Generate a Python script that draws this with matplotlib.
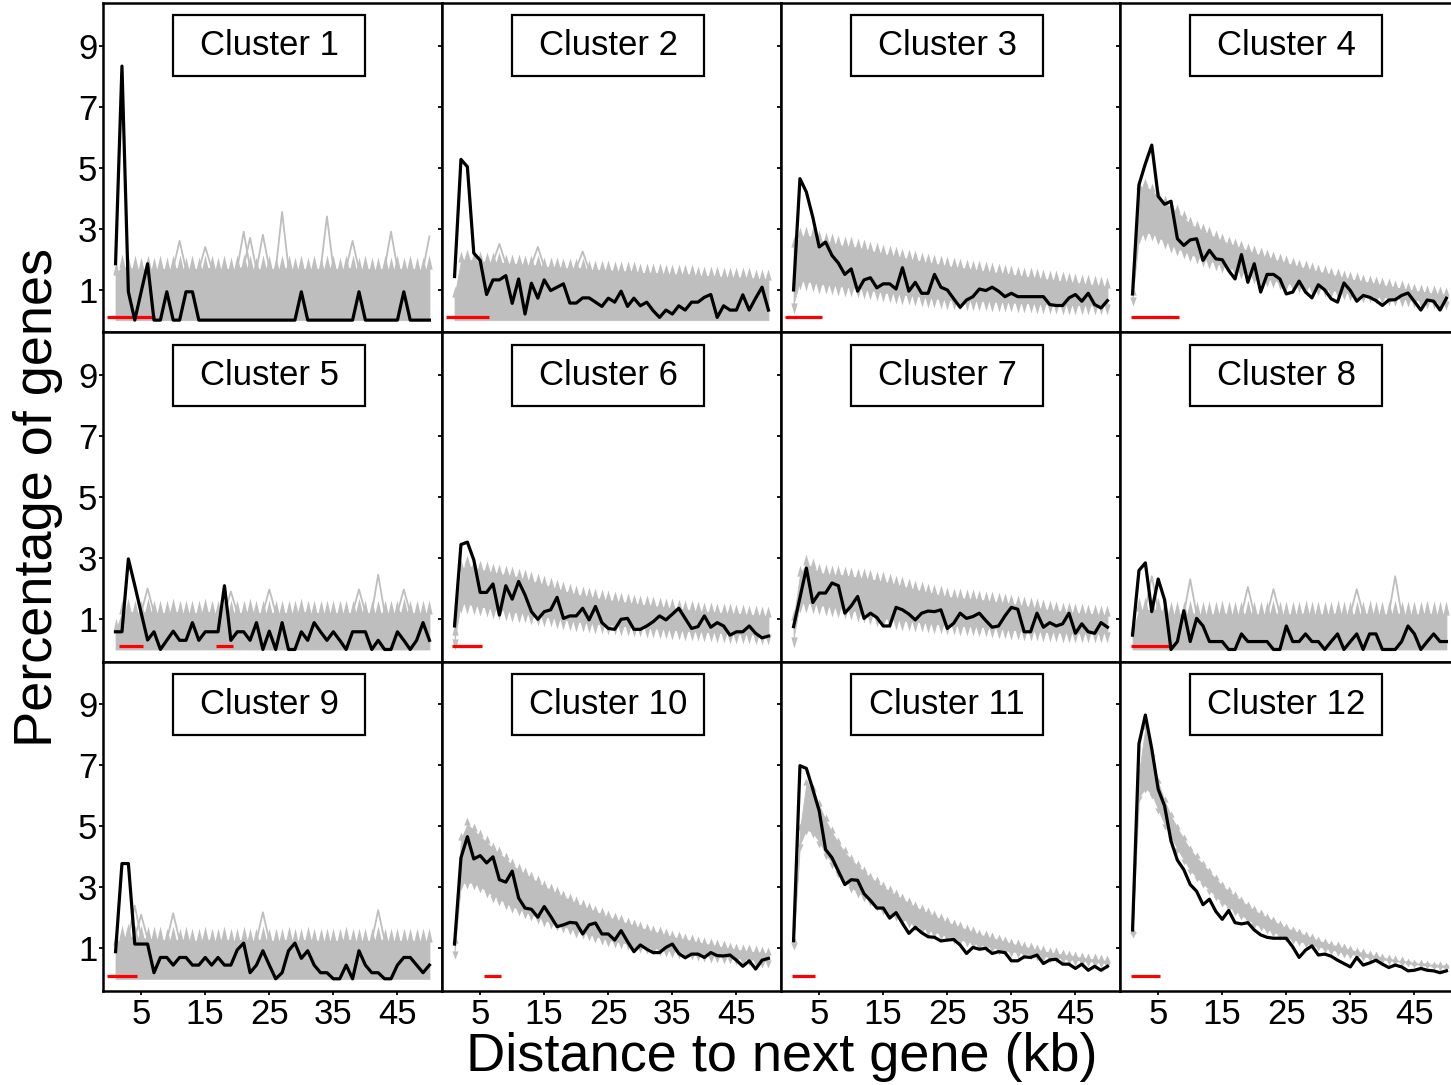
"""
Gene spacing per cluster: observed vs simulated distance to next gene
"""

import numpy as np
import matplotlib
matplotlib.use("Agg")
import matplotlib.pyplot as plt
from matplotlib.patches import Rectangle

plt.rcParams['font.family'] = ['Liberation Sans', 'DejaVu Sans']

# ---- data -------------------------------------------------------------
dist_kb = list(range(1, 51))
x_ticks = [5, 15, 25, 35, 45]
y_ticks = [1, 3, 5, 7, 9]
cluster_names = ["Cluster %d" % i for i in range(1, 13)]

# observed percentage of genes (black lines)
obs1 = [1.85, 8.33, 0.93, 0, 0.93, 1.85, 0, 0, 0.93, 0, 0, 0.93, 0.93, 0, 0, 0, 0, 0, 0, 0,
        0, 0, 0, 0, 0, 0, 0, 0, 0, 0.93, 0, 0, 0, 0, 0, 0, 0, 0, 0.93, 0,
        0, 0, 0, 0, 0, 0.93, 0, 0, 0, 0]
obs2 = [1.43, 5.27, 5.03, 2.2, 1.96, 0.84, 1.32, 1.32, 1.46, 0.55, 1.35, 0.2, 1.21, 0.72, 1.32, 0.97, 1.08, 1.19, 0.56, 0.56,
        0.73, 0.73, 0.59, 0.45, 0.72, 0.59, 0.95, 0.45, 0.72, 0.47, 0.59, 0.31, 0.09, 0.33, 0.2, 0.47, 0.33, 0.59, 0.59, 0.75,
        0.84, 0.09, 0.47, 0.33, 0.33, 0.83, 0.33, 0.72, 1.08, 0.33]
obs3 = [0.99, 4.64, 4.2, 3.38, 2.4, 2.56, 2.12, 1.87, 1.5, 1.68, 0.95, 1.32, 1.39, 1.06, 1.19, 1.19, 1.02, 1.72, 0.95, 1.24,
        0.88, 0.88, 1.5, 1.08, 0.99, 0.7, 0.42, 0.66, 0.77, 1.02, 0.97, 1.08, 0.95, 0.77, 0.88, 0.77, 0.77, 0.77, 0.77, 0.77,
        0.51, 0.48, 0.48, 0.73, 0.84, 0.62, 0.88, 0.51, 0.4, 0.64]
obs4 = [0.86, 4.44, 5.13, 5.74, 4.06, 3.8, 3.9, 2.67, 2.45, 2.63, 2.67, 1.96, 2.29, 2.01, 1.98, 1.63, 1.35, 2.15, 1.24, 1.85,
        0.92, 1.5, 1.5, 1.35, 0.86, 0.92, 1.28, 0.92, 0.73, 1.16, 0.99, 0.7, 0.59, 1.22, 0.97, 0.62, 0.81, 0.75, 0.64, 0.48,
        0.66, 0.67, 0.81, 0.89, 0.61, 0.33, 0.66, 0.62, 0.33, 0.72]
obs5 = [0.58, 0.58, 2.97, 2.1, 1.2, 0.31, 0.58, 0, 0.3, 0.6, 0.3, 0.3, 0.88, 0.3, 0.58, 0.58, 0.58, 2.09, 0.3, 0.58,
        0.58, 0.3, 0.88, 0, 0.6, 0, 0.88, 0, 0, 0.58, 0.3, 0.88, 0.58, 0.3, 0.58, 0.3, 0, 0.58, 0.58, 0.58,
        0, 0.3, 0, 0, 0.58, 0.3, 0, 0.3, 0.88, 0.3]
obs6 = [0.77, 3.44, 3.52, 2.94, 1.87, 1.87, 2.15, 1.13, 2.09, 1.65, 2.23, 1.79, 1.24, 0.99, 1.24, 1.3, 1.71, 1.02, 1.1, 1.1,
        1.35, 0.97, 1.41, 0.88, 0.69, 0.66, 0.99, 1.02, 0.66, 0.66, 0.77, 0.91, 1.1, 0.97, 1.16, 1.35, 1.02, 0.69, 0.75, 1.1,
        0.73, 0.88, 0.77, 0.47, 0.58, 0.58, 0.77, 0.53, 0.38, 0.44]
obs7 = [0.75, 1.7, 2.67, 1.54, 1.85, 1.85, 2.18, 2.09, 1.19, 1.43, 1.74, 1.02, 1.19, 1.05, 0.77, 0.77, 1.38, 1.3, 1.16, 0.97,
        1.19, 1.26, 1.24, 1.3, 0.69, 0.86, 1.19, 1.02, 1.08, 1.19, 0.95, 0.73, 0.77, 1.1, 1.38, 1.32, 0.58, 0.58, 1.19, 0.73,
        0.88, 0.77, 0.84, 1.19, 0.53, 0.84, 0.58, 0.53, 0.88, 0.73]
obs8 = [0.47, 2.59, 2.84, 1.24, 2.31, 1.63, 0, 0.26, 1.27, 0.26, 1.02, 0.77, 0.26, 0.26, 0.26, 0, 0, 0.51, 0.26, 0.26,
        0.26, 0.26, 0, 0, 0.77, 0.26, 0.26, 0.51, 0.26, 0.26, 0, 0.26, 0.51, 0, 0.26, 0.51, 0, 0.51, 0.51, 0,
        0, 0, 0.26, 0.77, 0.51, 0, 0.26, 0.51, 0.26, 0.26]
obs9 = [0.89, 3.78, 3.78, 1.14, 1.14, 1.14, 0.2, 0.7, 0.7, 0.45, 0.7, 0.7, 0.45, 0.45, 0.7, 0.45, 0.7, 0.45, 0.45, 0.95,
        1.17, 0.2, 0.45, 0.92, 0.45, 0, 0.2, 0.92, 1.17, 0.67, 0.92, 0.45, 0.2, 0.2, 0, 0, 0.45, 0, 0.92, 0.45,
        0.2, 0.2, 0, 0, 0.45, 0.7, 0.7, 0.45, 0.2, 0.45]
obs10 = [1.14, 3.97, 4.66, 3.93, 4.04, 3.8, 4.0, 3.25, 3.17, 3.53, 2.65, 2.32, 2.28, 2.02, 2.37, 2.05, 1.71, 1.77, 1.85, 1.83,
         1.47, 1.77, 1.83, 1.47, 1.47, 1.27, 1.58, 1.22, 0.89, 1.11, 0.97, 0.86, 0.86, 1.03, 1.14, 0.83, 0.69, 0.81, 0.81, 0.7,
         0.86, 0.76, 0.75, 0.78, 0.61, 0.41, 0.59, 0.32, 0.61, 0.67]
obs11 = [1.25, 6.99, 6.9, 6.22, 5.51, 4.24, 3.97, 3.53, 3.09, 3.25, 3.23, 2.79, 2.57, 2.32, 2.32, 1.99, 2.17, 1.82, 1.49, 1.69,
         1.51, 1.38, 1.36, 1.24, 1.27, 1.29, 1.11, 0.83, 1.03, 0.97, 1.0, 0.83, 0.89, 0.86, 0.59, 0.59, 0.72, 0.7, 0.78, 0.5,
         0.62, 0.64, 0.48, 0.48, 0.34, 0.48, 0.28, 0.41, 0.28, 0.41]
obs12 = [1.6, 7.71, 8.65, 7.54, 6.22, 5.67, 4.52, 3.89, 3.58, 3.09, 2.87, 2.43, 2.61, 2.21, 1.95, 2.24, 1.84, 1.8, 1.84, 1.6,
         1.44, 1.36, 1.33, 1.33, 1.33, 1.05, 0.7, 0.94, 1.08, 0.78, 0.81, 0.74, 0.61, 0.5, 0.39, 0.7, 0.45, 0.52, 0.61, 0.48,
         0.37, 0.45, 0.39, 0.26, 0.28, 0.34, 0.28, 0.26, 0.2, 0.26]

# simulated genomes: core of the grey band (upper / lower edge)
zeros50 = [0, 0, 0, 0, 0, 0, 0, 0, 0, 0, 0, 0, 0, 0, 0, 0, 0, 0, 0, 0, 0, 0, 0, 0, 0,
           0, 0, 0, 0, 0, 0, 0, 0, 0, 0, 0, 0, 0, 0, 0, 0, 0, 0, 0, 0, 0, 0, 0, 0, 0]
sim_hi1 = [1.5, 1.75, 1.7, 1.7, 1.65, 1.7, 1.65, 1.7, 1.65, 1.7, 1.7, 1.65, 1.7, 1.65, 1.7, 1.7, 1.65, 1.7, 1.65, 1.7,
           1.75, 1.7, 1.65, 1.7, 1.7, 1.65, 1.7, 1.7, 1.65, 1.7, 1.65, 1.7, 1.65, 1.7, 1.7, 1.65, 1.7, 1.7, 1.65, 1.7,
           1.65, 1.65, 1.7, 1.65, 1.7, 1.65, 1.7, 1.65, 1.65, 1.7]
sim_lo1 = zeros50
sim_hi2 = [0.8, 1.95, 2.0, 1.95, 1.95, 1.9, 1.9, 1.9, 1.85, 1.85, 1.85, 1.8, 1.8, 1.8, 1.75, 1.75, 1.75, 1.7, 1.7, 1.7,
           1.7, 1.65, 1.65, 1.65, 1.65, 1.6, 1.6, 1.6, 1.6, 1.55, 1.55, 1.55, 1.55, 1.5, 1.5, 1.5, 1.5, 1.5, 1.45, 1.45,
           1.45, 1.45, 1.4, 1.4, 1.4, 1.4, 1.4, 1.35, 1.35, 1.35]
sim_lo2 = zeros50
sim_hi3 = [2.42, 2.72, 2.77, 2.72, 2.62, 2.57, 2.52, 2.47, 2.42, 2.42, 2.37, 2.32, 2.27, 2.22, 2.17, 2.13, 2.09, 2.05, 2.0, 1.96,
           1.92, 1.88, 1.85, 1.81, 1.77, 1.74, 1.71, 1.69, 1.66, 1.63, 1.6, 1.57, 1.55, 1.52, 1.49, 1.46, 1.43, 1.41, 1.38, 1.35,
           1.32, 1.3, 1.27, 1.25, 1.22, 1.2, 1.17, 1.15, 1.12, 1.1]
sim_lo3 = [0.53, 1.3, 1.28, 1.24, 1.19, 1.17, 1.15, 1.12, 1.1, 1.08, 1.05, 1.02, 0.98, 0.95, 0.91, 0.89, 0.87, 0.84, 0.82, 0.8,
           0.77, 0.74, 0.72, 0.69, 0.66, 0.66, 0.65, 0.64, 0.64, 0.63, 0.62, 0.61, 0.6, 0.59, 0.58, 0.57, 0.56, 0.55, 0.54, 0.53,
           0.52, 0.52, 0.51, 0.5, 0.5, 0.49, 0.49, 0.48, 0.48, 0.48]
sim_hi4 = [0.85, 4.34, 4.39, 4.24, 4.04, 3.84, 3.69, 3.54, 3.34, 3.14, 3.03, 2.92, 2.81, 2.7, 2.59, 2.51, 2.43, 2.35, 2.27, 2.19,
           2.12, 2.06, 1.99, 1.93, 1.86, 1.81, 1.75, 1.7, 1.64, 1.59, 1.54, 1.49, 1.44, 1.39, 1.34, 1.3, 1.26, 1.23, 1.19, 1.15,
           1.11, 1.07, 1.04, 1.0, 0.96, 0.93, 0.9, 0.88, 0.85, 0.82]
sim_lo4 = [0.72, 2.76, 2.86, 2.86, 2.71, 2.61, 2.46, 2.36, 2.26, 2.16, 2.09, 2.02, 1.95, 1.88, 1.81, 1.74, 1.67, 1.6, 1.53, 1.46,
           1.41, 1.36, 1.31, 1.26, 1.21, 1.18, 1.15, 1.12, 1.09, 1.06, 1.02, 0.99, 0.95, 0.92, 0.88, 0.86, 0.83, 0.81, 0.78, 0.76,
           0.74, 0.72, 0.7, 0.68, 0.66, 0.65, 0.63, 0.62, 0.6, 0.59]
sim_hi5 = [0.6, 1.2, 1.25, 1.2, 1.2, 1.25, 1.2, 1.2, 1.2, 1.25, 1.2, 1.2, 1.2, 1.2, 1.25, 1.2, 1.2, 1.2, 1.2, 1.2,
           1.2, 1.25, 1.2, 1.2, 1.2, 1.2, 1.2, 1.2, 1.2, 1.25, 1.2, 1.2, 1.2, 1.2, 1.2, 1.2, 1.2, 1.2, 1.25, 1.2,
           1.2, 1.2, 1.2, 1.2, 1.2, 1.25, 1.2, 1.2, 1.2, 1.2]
sim_lo5 = zeros50
sim_hi6 = [0.5, 2.62, 2.77, 2.67, 2.62, 2.57, 2.52, 2.47, 2.45, 2.42, 2.36, 2.3, 2.24, 2.18, 2.12, 2.05, 1.98, 1.92, 1.85, 1.79,
           1.76, 1.72, 1.69, 1.65, 1.62, 1.59, 1.56, 1.53, 1.5, 1.47, 1.45, 1.42, 1.4, 1.37, 1.35, 1.33, 1.31, 1.28, 1.26, 1.24,
           1.23, 1.21, 1.2, 1.18, 1.17, 1.16, 1.14, 1.13, 1.11, 1.1]
sim_lo6 = [0.3, 1.52, 1.5, 1.45, 1.41, 1.38, 1.34, 1.31, 1.27, 1.24, 1.21, 1.18, 1.14, 1.11, 1.08, 1.05, 1.01, 0.98, 0.94, 0.91,
           0.89, 0.87, 0.84, 0.82, 0.8, 0.79, 0.77, 0.76, 0.74, 0.73, 0.71, 0.69, 0.68, 0.66, 0.64, 0.63, 0.62, 0.6, 0.59, 0.58,
           0.57, 0.55, 0.54, 0.52, 0.51, 0.5, 0.5, 0.49, 0.49, 0.48]
sim_hi7 = [1.0, 2.45, 2.81, 2.67, 2.52, 2.47, 2.45, 2.45, 2.42, 2.39, 2.36, 2.33, 2.3, 2.26, 2.23, 2.18, 2.12, 2.07, 2.01, 1.96,
           1.91, 1.86, 1.82, 1.77, 1.72, 1.7, 1.68, 1.67, 1.65, 1.63, 1.6, 1.58, 1.55, 1.53, 1.5, 1.46, 1.43, 1.39, 1.36, 1.32,
           1.29, 1.27, 1.24, 1.22, 1.19, 1.18, 1.17, 1.15, 1.14, 1.13]
sim_lo7 = [0.37, 1.52, 1.53, 1.5, 1.46, 1.43, 1.4, 1.36, 1.33, 1.3, 1.24, 1.19, 1.13, 1.08, 1.02, 1.0, 0.98, 0.95, 0.93, 0.91,
           0.89, 0.87, 0.84, 0.82, 0.8, 0.79, 0.78, 0.77, 0.76, 0.75, 0.73, 0.71, 0.68, 0.66, 0.64, 0.63, 0.62, 0.6, 0.59, 0.58,
           0.57, 0.56, 0.55, 0.54, 0.53, 0.53, 0.53, 0.53, 0.53, 0.53]
sim_hi8 = [0.55, 1.3, 1.3, 1.3, 1.3, 1.25, 1.15, 1.15, 1.15, 1.2, 1.15, 1.15, 1.15, 1.15, 1.2, 1.15, 1.15, 1.15, 1.2, 1.15,
           1.15, 1.15, 1.2, 1.15, 1.15, 1.15, 1.15, 1.2, 1.15, 1.15, 1.15, 1.15, 1.2, 1.15, 1.15, 1.15, 1.15, 1.2, 1.15, 1.15,
           1.15, 1.2, 1.15, 1.15, 1.15, 1.15, 1.2, 1.15, 1.15, 1.15]
sim_lo8 = zeros50
sim_hi9 = [1.15, 1.35, 1.4, 1.35, 1.35, 1.3, 1.3, 1.3, 1.25, 1.3, 1.25, 1.3, 1.25, 1.25, 1.3, 1.25, 1.25, 1.3, 1.25, 1.25,
           1.3, 1.25, 1.25, 1.3, 1.25, 1.25, 1.25, 1.3, 1.25, 1.25, 1.3, 1.25, 1.25, 1.25, 1.25, 1.25, 1.3, 1.25, 1.25, 1.25,
           1.25, 1.3, 1.25, 1.25, 1.25, 1.25, 1.25, 1.25, 1.25, 1.25]
sim_lo9 = zeros50
sim_hi10 = [1.22, 4.57, 5.07, 4.87, 4.67, 4.47, 4.27, 4.12, 3.92, 3.72, 3.58, 3.44, 3.3, 3.16, 3.02, 2.91, 2.8, 2.69, 2.58, 2.47,
            2.38, 2.29, 2.2, 2.11, 2.02, 1.95, 1.88, 1.81, 1.74, 1.67, 1.61, 1.55, 1.49, 1.43, 1.37, 1.33, 1.28, 1.24, 1.19, 1.15,
            1.11, 1.07, 1.03, 0.99, 0.95, 0.92, 0.9, 0.87, 0.85, 0.82]
sim_lo10 = [0.88, 3.13, 3.18, 3.13, 3.03, 2.88, 2.73, 2.63, 2.48, 2.38, 2.29, 2.2, 2.11, 2.02, 1.93, 1.86, 1.79, 1.72, 1.65, 1.58,
            1.52, 1.46, 1.4, 1.34, 1.28, 1.24, 1.2, 1.16, 1.12, 1.08, 1.05, 1.01, 0.98, 0.94, 0.91, 0.88, 0.86, 0.83, 0.81, 0.78,
            0.76, 0.74, 0.72, 0.7, 0.68, 0.66, 0.64, 0.62, 0.6, 0.58]
sim_hi11 = [1.2, 4.9, 6.4, 6.2, 5.7, 5.2, 4.8, 4.45, 4.15, 3.9, 3.7, 3.5, 3.32, 3.16, 3.0, 2.87, 2.74, 2.61, 2.48, 2.35,
            2.25, 2.15, 2.05, 1.95, 1.85, 1.77, 1.69, 1.61, 1.53, 1.45, 1.39, 1.33, 1.27, 1.21, 1.15, 1.1, 1.05, 1.0, 0.95, 0.9,
            0.86, 0.83, 0.79, 0.76, 0.72, 0.69, 0.66, 0.64, 0.61, 0.58]
sim_lo11 = [1.15, 4.4, 4.9, 4.8, 4.5, 4.1, 3.8, 3.5, 3.25, 3.0, 2.85, 2.71, 2.57, 2.43, 2.3, 2.19, 2.08, 1.97, 1.86, 1.75,
            1.68, 1.61, 1.54, 1.47, 1.4, 1.34, 1.29, 1.23, 1.18, 1.12, 1.08, 1.03, 0.99, 0.94, 0.9, 0.87, 0.84, 0.81, 0.78, 0.75,
            0.72, 0.7, 0.67, 0.65, 0.62, 0.6, 0.58, 0.56, 0.54, 0.52]
sim_hi12 = [1.54, 6.74, 8.24, 7.34, 6.44, 5.84, 5.34, 4.94, 4.59, 4.24, 3.98, 3.74, 3.5, 3.27, 3.04, 2.87, 2.71, 2.55, 2.39, 2.24,
            2.12, 2.0, 1.89, 1.77, 1.66, 1.58, 1.5, 1.42, 1.34, 1.24, 1.18, 1.12, 1.06, 1.0, 0.94, 0.89, 0.84, 0.79, 0.74, 0.69,
            0.65, 0.61, 0.57, 0.53, 0.49, 0.47, 0.45, 0.43, 0.41, 0.39]
sim_lo12 = [1.51, 5.96, 6.26, 6.06, 5.56, 5.06, 4.66, 4.26, 3.91, 3.56, 3.34, 3.13, 2.92, 2.71, 2.51, 2.37, 2.23, 2.09, 1.95, 1.81,
            1.72, 1.63, 1.54, 1.45, 1.36, 1.3, 1.24, 1.18, 1.12, 1.06, 1.01, 0.96, 0.91, 0.86, 0.81, 0.78, 0.74, 0.71, 0.67, 0.64,
            0.61, 0.59, 0.56, 0.54, 0.51, 0.49, 0.47, 0.45, 0.43, 0.41]

# single simulations sticking out of the band: (kb, percentage)
sim_out1 = [(11, 2.6), (15, 2.4), (21, 2.9), (22, 2.7), (24, 2.8), (27, 3.55), (34, 3.4), (38, 2.6), (44, 2.9), (50, 2.75)]
sim_out2 = [(8, 2.5), (14, 2.4), (21, 2.25)]
sim_out5 = [(6, 2.0), (19, 1.9), (25, 1.97), (39, 1.97), (42, 2.45), (46, 1.97)]
sim_out8 = [(4, 2.4), (10, 2.3), (19, 2.05), (23, 1.98), (36, 1.98), (42, 2.4)]
sim_out9 = [(4, 2.4), (5, 2.1), (10, 2.15), (24, 2.18), (42, 2.25)]

# significant distance ranges (red bars), kb
sig1 = [(-0.3, 7.1)]
sig2 = [(-0.3, 6.3)]
sig3 = [(-0.3, 5.4)]
sig4 = [(0.7, 8.3)]
sig5 = [(1.6, 5.3), (16.7, 19.4)]
sig6 = [(0.6, 5.3)]
sig7 = []
sig8 = [(0.7, 7.3)]
sig9 = [(-0.3, 4.3)]
sig10 = [(5.6, 8.3)]
sig11 = [(0.7, 4.3)]
sig12 = [(0.7, 5.3)]

observed = [obs1, obs2, obs3, obs4, obs5, obs6, obs7, obs8, obs9, obs10, obs11, obs12]
sim_hi = [sim_hi1, sim_hi2, sim_hi3, sim_hi4, sim_hi5, sim_hi6, sim_hi7, sim_hi8, sim_hi9, sim_hi10, sim_hi11, sim_hi12]
sim_lo = [sim_lo1, sim_lo2, sim_lo3, sim_lo4, sim_lo5, sim_lo6, sim_lo7, sim_lo8, sim_lo9, sim_lo10, sim_lo11, sim_lo12]
sim_out = [sim_out1, sim_out2, [], [], sim_out5, [], [], sim_out8, sim_out9, [], [], []]
sig = [sig1, sig2, sig3, sig4, sig5, sig6, sig7, sig8, sig9, sig10, sig11, sig12]

# ---- style -------------------------------------------------------------
GREY = '#bebebe'
PT = 0.72  # points per pixel at dpi 100
spike_px = [13, 10, 10, 8, 13, 10, 10, 13, 13, 7, 6, 5]


def spike_marker(h_px, up=True):
    # narrow triangle standing on the band edge, gives the saw-tooth look
    h = h_px * PT
    w = 3.2 * PT
    s = 1 if up else -1
    verts = [(-w, -s * 0.8), (0, s * h), (w, -s * 0.8), (-w, -s * 0.8)]
    return verts, 2 * h


fig = plt.figure(figsize=(14.51, 10.85), dpi=100)
W, H = 1451.0, 1085.0
left, col_w = 103 / W, 339 / W
top, row_h = 1 - 3 / H, (988 / H) / 3

x = np.array(dist_kb, dtype=float)
for i in range(12):
    r, c = divmod(i, 4)
    ax = fig.add_axes([left + c * col_w, top - (r + 1) * row_h, col_w, row_h])
    hi = np.array(sim_hi[i], dtype=float)
    lo = np.array(sim_lo[i], dtype=float)

    # grey band of simulations
    ax.fill_between(x, lo, hi, color=GREY, lw=0.6, edgecolor=GREY, zorder=1)
    m_up, ms = spike_marker(spike_px[i], True)
    ax.plot(x, hi, ls='none', marker=m_up, ms=ms, color=GREY, mew=0, zorder=1)
    lo_m = np.where(lo > 0, lo, np.nan)
    m_dn, ms = spike_marker(spike_px[i], False)
    ax.plot(x, lo_m, ls='none', marker=m_dn, ms=ms, color=GREY, mew=0, zorder=1)
    for kb, val in sim_out[i]:
        xs = [kb]
        ys = [val]
        if kb > 1:
            xs.insert(0, kb - 1)
            ys.insert(0, hi[kb - 2])
        if kb < 50:
            xs.append(kb + 1)
            ys.append(hi[kb])
        ax.plot(xs, ys, color=GREY, lw=1.3, zorder=1)

    # significant ranges
    for x0, x1 in sig[i]:
        ax.plot([x0, x1], [0.1, 0.1], color='#ff0000', lw=2.3, solid_capstyle='butt', zorder=2)

    # observed
    ax.plot(x, observed[i], color='black', lw=2.3, zorder=3)

    # title box
    ax.add_patch(Rectangle((10, 8), 30, 2, facecolor='white', edgecolor='black', lw=1.6, zorder=4))
    ax.text(25, 9, cluster_names[i], ha='center', va='center', fontsize=25, zorder=5)

    ax.set_xlim(-0.96, 51.96)
    ax.set_ylim(-0.4, 10.4)
    ax.set_xticks(x_ticks)
    ax.set_yticks(y_ticks)
    ax.tick_params(direction='out', length=3, width=1.3, labelsize=25, pad=2,
                   labelleft=(c == 0), labelbottom=(r == 2))
    ax.tick_params(axis='y', pad=1)
    for sp in ax.spines.values():
        sp.set_linewidth(1.8)

fig.text(38 / W, 1 - 497 / H, "Percentage of genes", rotation=90, ha='center', va='center', fontsize=39)
fig.text(782 / W, 1 - 1057 / H, "Distance to next gene (kb)", ha='center', va='center', fontsize=39)

fig.savefig("out.png", dpi=100)
